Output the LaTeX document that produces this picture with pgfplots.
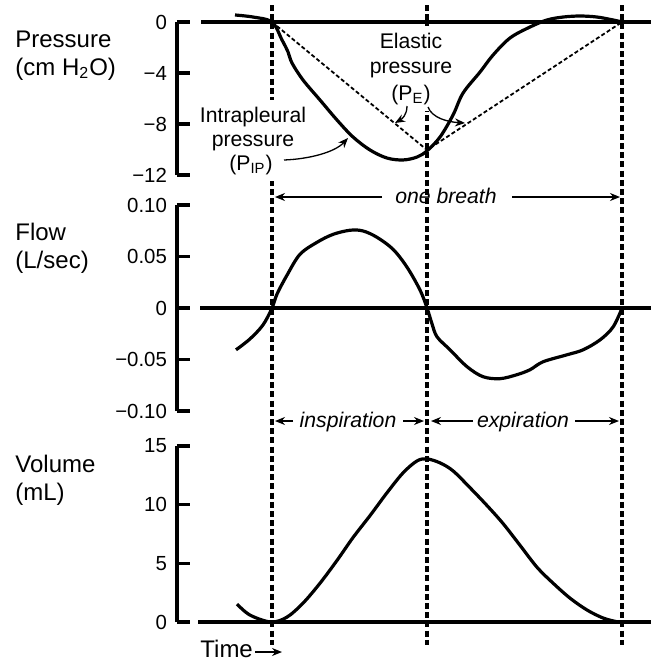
\documentclass[border=0pt]{standalone}
\usepackage{pgfplots}
\pgfplotsset{compat=1.18}
\usepackage{fontspec}
\setmainfont{Liberation Sans}
\usetikzlibrary{arrows.meta}

\pgfplotsset{panel/.style={
  scale only axis, width=237pt, xmin=-95, xmax=379,
  axis x line=none, axis y line=left,
  axis line style={-, line width=1.9pt, black},
  tick align=inside, major tick length=6.5pt,
  ytick style={line width=1.6pt, black},
  clip=false, /pgf/number format/assume math mode=true,
  yticklabel style={font=\fontsize{10.2}{12}\selectfont, xshift=-1.5pt},
  anchor=south west,
}}
\tikzset{curve/.style={line width=1.6pt, black, smooth, tension=0.55},
         zline/.style={line width=1.7pt, black}}

\begin{document}
\begin{tikzpicture}
\useasboundingbox (0,0) rectangle (325.5pt,-330pt);

% Pressure
\begin{axis}[panel, at={(88.5pt,-87.5pt)}, height=76.5pt, ymin=-12, ymax=0,
  ytick={-12,-8,-4,0}, yticklabels={−12,−8,−4,0}]
\addplot[zline] coordinates {(-71,0) (379,0)};
\addplot[curve] coordinates {(-37,0.55) (-19,0.39) (0,0) (10,-1.41) (16,-2.35) (20,-3.22) (31,-4.55) (48,-6.12) (65,-7.69) (81,-9.02) (98,-10.04) (115,-10.67) (131,-10.82) (145,-10.59) (155,-10.1) (168,-9.02) (181,-7.29) (191,-5.57) (208,-3.92) (221,-2.59) (238,-1.25) (258,-0.39) (275,0.16) (291,0.39) (308,0.47) (325,0.39) (341,0.16) (350,0)};
\addplot[black, line width=0.9pt, dash pattern=on 2pt off 1.2pt] coordinates {(0,0) (155,-10.04) (350,0)};
\end{axis}

% Flow
\begin{axis}[panel, at={(88.5pt,-205.5pt)}, height=103pt, ymin=-0.1, ymax=0.1,
  ytick={-0.1,-0.05,0,0.05,0.1}, yticklabels={−0.10,−0.05,0,0.05,0.10}]
\addplot[zline] coordinates {(-72,0) (379,0)};
\addplot[curve] coordinates {(-36,-0.0406) (-22,-0.030) (-9,-0.0164) (0,0) (5,0.0135) (15,0.0319) (28,0.0522) (45,0.0638) (61,0.0715) (78,0.0755) (91,0.0748) (105,0.0686) (121,0.0570) (135,0.0396) (148,0.0174) (155,0) (160,-0.0155) (165,-0.028) (178,-0.0406) (195,-0.057) (211,-0.0667) (228,-0.0686) (245,-0.0647) (258,-0.0599) (271,-0.0522) (295,-0.0454) (311,-0.0406) (328,-0.0309) (341,-0.0184) (350,0)};
\end{axis}

% Volume
\begin{axis}[panel, at={(88.5pt,-311pt)}, height=88pt, ymin=0, ymax=15,
  ytick={0,5,10,15}, yticklabels={0,5,10,15}]
\addplot[zline] coordinates {(-74,0) (379,0)};
\addplot[curve] coordinates {(-35,1.53) (-22,0.59) (-1,0) (15,0.42) (31,1.61) (48,3.31) (65,5.25) (81,7.20) (98,9.07) (115,11.02) (131,12.71) (145,13.73) (155,13.90) (168,13.56) (181,12.88) (198,11.44) (215,9.92) (231,8.39) (248,6.53) (265,4.66) (281,3.31) (298,2.03) (315,1.02) (331,0.34) (345,0.02) (350,0)};
\end{axis}

\begin{scope}[x=0.5pt, y=-0.5pt]
% vertical dashed lines
\foreach \xx in {272,427,622}
  \draw[black, line width=1.7pt, dash pattern=on 3pt off 1.6pt] (\xx,5) -- (\xx,645);

% left labels
\begin{scope}[every node/.style={anchor=base west, inner sep=0pt, font=\fontsize{12}{14}\selectfont}]
\node at (15,47) {Pressure};
\node at (15,75) {(cm H\textsubscript{2}O)};
\node at (15,240) {Flow};
\node at (15,268) {(L/sec)};
\node at (15,472) {Volume};
\node at (15,500) {(mL)};
\node at (200,657) {Time};
\end{scope}
\draw[line width=0.7pt, -{Stealth[length=5pt,width=4pt]}] (255,652) -- (282,652);

% annotations with white background
\begin{scope}[every node/.style={anchor=base, inner xsep=1.6pt, inner ysep=3.5pt, fill=white, font=\fontsize{10.6}{12}\selectfont}]
\node at (411,48) {Elastic};
\node at (411,73) {pressure};
\node at (411,100) {(P\textsubscript{E})};
\node at (253,122) {Intrapleural};
\node at (253,146) {pressure};
\node at (251,170) {(P\textsubscript{IP})};
\end{scope}
\begin{scope}[every node/.style={anchor=base, inner sep=0pt, font=\fontsize{10.6}{12}\selectfont}]
\node at (446,203) {\itshape one breath};
\node at (348,427) {\itshape inspiration};
\node at (523,427) {\itshape expiration};
\end{scope}

\tikzset{ar/.style={line width=0.65pt, -{Stealth[length=5pt,width=4pt]}}}
\draw[ar] (407,106) .. controls (407,115) and (402,119) .. (395,123);
\draw[ar] (428,107) .. controls (432,118) and (448,122) .. (465,123);
\draw[ar] (284,160) .. controls (310,159) and (335,152) .. (348,138);
\draw[ar] (382,197) -- (275,197);
\draw[ar] (512,197) -- (620,197);
\draw[ar] (293,421) -- (275,421);
\draw[ar] (403,421) -- (424,421);
\draw[ar] (473,421) -- (431,421);
\draw[ar] (575,421) -- (619,421);
\end{scope}
\end{tikzpicture}
\end{document}
